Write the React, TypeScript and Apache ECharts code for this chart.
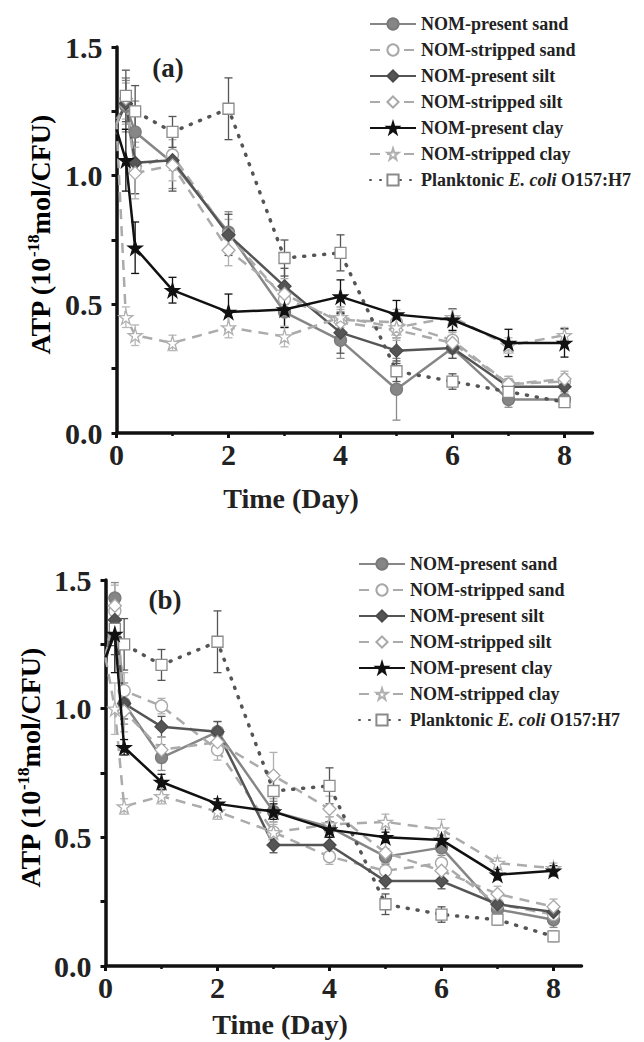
import React, { useEffect, useRef } from "react";
import * as echarts from "echarts";

// ---------- data ----------
const X = [0, 0.167, 0.333, 1, 2, 3, 4, 5, 6, 7, 8];
const XP = [0.167, 0.333, 1, 2, 3, 4, 5, 6, 7, 8];
const xTickLabels = [0, 2, 4, 6, 8];
const xMinorTicks = [1, 3, 5, 7];

const seriesNames = [
  "NOM-present sand",
  "NOM-stripped sand",
  "NOM-present silt",
  "NOM-stripped silt",
  "NOM-present clay",
  "NOM-stripped clay",
  "Planktonic E. coli O157:H7",
];

// Panel (a)
const presentSandA = [1.22, 1.27, 1.17, 1.05, 0.78, 0.47, 0.36, 0.17, 0.33, 0.13, 0.13];
const strippedSandA = [1.2, 1.28, 1.03, 1.08, 0.77, 0.52, 0.44, 0.43, 0.36, 0.19, 0.2];
const presentSiltA = [1.2, 1.28, 1.05, 1.06, 0.77, 0.57, 0.39, 0.32, 0.33, 0.18, 0.18];
const strippedSiltA = [1.2, 1.3, 1.01, 1.04, 0.71, 0.54, 0.43, 0.4, 0.35, 0.19, 0.21];
const presentClayA = [1.18, 1.06, 0.72, 0.555, 0.47, 0.48, 0.53, 0.46, 0.44, 0.35, 0.35];
const strippedClayA = [1.2, 0.45, 0.38, 0.35, 0.41, 0.375, 0.45, 0.41, 0.45, 0.34, 0.38];
const planktonicA = [1.31, 1.25, 1.17, 1.26, 0.68, 0.7, 0.24, 0.2, 0.16, 0.12];

const presentSandErrA = [0, 0.1, 0.12, 0.1, 0.08, 0.06, 0.07, 0.12, 0.04, 0.03, 0.03];
const strippedSandErrA = [0, 0.08, 0.1, 0.06, 0.06, 0.05, 0.05, 0.05, 0.04, 0.03, 0.03];
const presentSiltErrA = [0, 0.1, 0.12, 0.12, 0.08, 0.07, 0.08, 0.05, 0.04, 0.03, 0.03];
const strippedSiltErrA = [0, 0.08, 0.1, 0.06, 0.06, 0.06, 0.05, 0.04, 0.04, 0.03, 0.03];
const presentClayErrA = [0, 0.12, 0.1, 0.05, 0.07, 0.07, 0.065, 0.055, 0.042, 0.053, 0.055];
const strippedClayErrA = [0, 0.04, 0.04, 0.03, 0.04, 0.04, 0.04, 0.04, 0.03, 0.03, 0.03];
const planktonicErrA = [0.1, 0.1, 0.06, 0.12, 0.07, 0.07, 0.04, 0.03, 0.02, 0.02];

// Panel (b)
const presentSandB = [1.18, 1.43, 1.02, 0.81, 0.91, 0.6, 0.54, 0.425, 0.46, 0.22, 0.18];
const strippedSandB = [1.2, 1.38, 1.07, 1.01, 0.84, 0.52, 0.425, 0.37, 0.4, 0.24, 0.2];
const presentSiltB = [1.18, 1.345, 1.02, 0.93, 0.91, 0.47, 0.47, 0.33, 0.33, 0.24, 0.21];
const strippedSiltB = [1.2, 1.4, 0.99, 0.84, 0.87, 0.74, 0.61, 0.44, 0.37, 0.28, 0.23];
const presentClayB = [1.2, 1.29, 0.85, 0.715, 0.63, 0.6, 0.53, 0.5, 0.49, 0.355, 0.37];
const strippedClayB = [1.2, 1.0, 0.62, 0.66, 0.6, 0.52, 0.55, 0.56, 0.53, 0.4, 0.38];
const planktonicB = [1.31, 1.25, 1.17, 1.26, 0.68, 0.7, 0.24, 0.2, 0.18, 0.115];

const presentSandErrB = [0, 0.06, 0.08, 0.05, 0.04, 0.04, 0.04, 0.03, 0.03, 0.03, 0.03];
const strippedSandErrB = [0, 0.06, 0.07, 0.03, 0.04, 0.04, 0.03, 0.03, 0.04, 0.03, 0.03];
const presentSiltErrB = [0, 0.1, 0.06, 0.04, 0.04, 0.03, 0.03, 0.03, 0.03, 0.03, 0.03];
const strippedSiltErrB = [0, 0.08, 0.08, 0.05, 0.04, 0.09, 0.05, 0.04, 0.04, 0.03, 0.03];
const presentClayErrB = [0, 0.15, 0.03, 0.03, 0.02, 0.03, 0.03, 0.02, 0.02, 0.02, 0.02];
const strippedClayErrB = [0, 0.1, 0.03, 0.03, 0.03, 0.03, 0.03, 0.03, 0.04, 0.02, 0.02];
const planktonicErrB = [0.1, 0.1, 0.06, 0.12, 0.07, 0.07, 0.04, 0.03, 0.02, 0.02];

// ---------- styles ----------
const FONT = "'Liberation Serif', 'Times New Roman', serif";
const STAR =
  "path://M50,0 L61,35 L98,35 L68,57 L79,91 L50,70 L21,91 L32,57 L2,35 L39,35 Z";

const styles = [
  { line: "#868686", type: "solid", width: 2.5, symbol: "circle", size: 12, fill: "#868686", border: "#7a7a7a", err: "#8a8a8a" },
  { line: "#ababab", type: [10, 7], width: 2.5, symbol: "circle", size: 12, fill: "#ffffff", border: "#a8a8a8", err: "#b0b0b0" },
  { line: "#555555", type: "solid", width: 2.5, symbol: "diamond", size: 13, fill: "#555555", border: "#4a4a4a", err: "#555555" },
  { line: "#ababab", type: [10, 7], width: 2.5, symbol: "diamond", size: 13, fill: "#ffffff", border: "#a8a8a8", err: "#b0b0b0" },
  { line: "#111111", type: "solid", width: 2.5, symbol: STAR, size: 14, fill: "#111111", border: "#111111", err: "#111111" },
  { line: "#ababab", type: [10, 7], width: 2.5, symbol: STAR, size: 14, fill: "#ffffff", border: "#b0b0b0", err: "#b8b8b8" },
  { line: "#555555", type: [1, 9], width: 3.5, symbol: "rect", size: 11, fill: "#ffffff", border: "#8a8a8a", err: "#555555" },
];

const panelA = [presentSandA, strippedSandA, presentSiltA, strippedSiltA, presentClayA, strippedClayA, planktonicA];
const panelAErr = [presentSandErrA, strippedSandErrA, presentSiltErrA, strippedSiltErrA, presentClayErrA, strippedClayErrA, planktonicErrA];
const panelB = [presentSandB, strippedSandB, presentSiltB, strippedSiltB, presentClayB, strippedClayB, planktonicB];
const panelBErr = [presentSandErrB, strippedSandErrB, presentSiltErrB, strippedSiltErrB, presentClayErrB, strippedClayErrB, planktonicErrB];

function buildSeries(panel: number, vals: number[][], errs: number[][]) {
  const out: any[] = [];
  vals.forEach((ys, i) => {
    const st = styles[i];
    const xs = i === 6 ? XP : X;
    out.push({
      type: "custom",
      name: "err" + panel + "-" + i,
      xAxisIndex: panel * 2,
      yAxisIndex: panel,
      z: 1,
      silent: true,
      data: ys.map((y, k) => [xs[k], y, errs[i][k]]),
      renderItem: (params: any, api: any) => {
        const x = api.value(0);
        const y = api.value(1);
        const e = api.value(2);
        if (!e) return null;
        const top = api.coord([x, y + e]);
        const bot = api.coord([x, y - e]);
        const hw = 4;
        const s = { stroke: st.err, lineWidth: 1.3 };
        return {
          type: "group",
          children: [
            { type: "line", shape: { x1: top[0], y1: top[1], x2: bot[0], y2: bot[1] }, style: s },
            { type: "line", shape: { x1: top[0] - hw, y1: top[1], x2: top[0] + hw, y2: top[1] }, style: s },
            { type: "line", shape: { x1: bot[0] - hw, y1: bot[1], x2: bot[0] + hw, y2: bot[1] }, style: s },
          ],
        };
      },
    });
    out.push({
      type: "line",
      name: seriesNames[i],
      xAxisIndex: panel * 2,
      yAxisIndex: panel,
      z: 2 + (i === 4 ? 3 : 0),
      symbol: st.symbol,
      symbolSize: st.size,
      lineStyle: { color: st.line, width: st.width, type: st.type, cap: i === 6 ? "round" : "butt" },
      itemStyle: { color: st.fill, borderColor: st.border, borderWidth: 1.3 },
      data: ys.map((y, k) =>
        xs[k] === 0 ? { value: [xs[k], y], symbol: "none" } : [xs[k], y]
      ),
    });
  });
  return out;
}

const axisLabelStyle = {
  fontFamily: FONT,
  fontWeight: "bold" as const,
  fontSize: 30,
  color: "#222",
};

function xAxes(grid: number) {
  return [
    {
      type: "value",
      gridIndex: grid,
      min: 0,
      max: 8.5,
      position: "bottom",
      axisLine: { show: true, onZero: false, lineStyle: { color: "#111", width: 3.5 } },
      axisTick: { show: true, customValues: xTickLabels, length: 5, lineStyle: { color: "#111", width: 3 } },
      axisLabel: { ...axisLabelStyle, customValues: xTickLabels, margin: 6 },
      splitLine: { show: false },
    },
    {
      type: "value",
      gridIndex: grid,
      min: 0,
      max: 8.5,
      position: "bottom",
      axisLine: { show: false, onZero: false },
      axisTick: { show: true, customValues: xMinorTicks, length: 3, lineStyle: { color: "#111", width: 2.5 } },
      axisLabel: { show: false },
      splitLine: { show: false },
    },
  ];
}

function yAxis(grid: number) {
  return {
    type: "value",
    gridIndex: grid,
    min: 0,
    max: 1.5,
    interval: 0.5,
    axisLine: { show: true, onZero: false, lineStyle: { color: "#111", width: 3.5 } },
    axisTick: { show: true, length: 5, lineStyle: { color: "#111", width: 3 } },
    minorTick: { show: true, splitNumber: 2, length: 5, lineStyle: { color: "#111", width: 3 } },
    axisLabel: { ...axisLabelStyle, margin: 14, formatter: (v: number) => v.toFixed(1) },
    splitLine: { show: false },
    minorSplitLine: { show: false },
  };
}

function legend(left: number, top: number) {
  return {
    orient: "vertical",
    left,
    top,
    itemWidth: 46,
    itemHeight: 14,
    itemGap: 8,
    data: seriesNames,
    selectedMode: false,
    textStyle: {
      fontFamily: FONT,
      fontWeight: "bold",
      fontSize: 18,
      color: "#222",
      rich: {
        n: { fontFamily: FONT, fontWeight: "bold", fontSize: 18, color: "#222" },
        i: { fontFamily: FONT, fontWeight: "bold", fontStyle: "italic", fontSize: 18, color: "#222" },
      },
    },
    formatter: (name: string) =>
      name.startsWith("Planktonic") ? "{n|Planktonic }{i|E. coli}{n| O157:H7}" : name,
  };
}

function yTitle(x: number, y: number) {
  return {
    type: "text",
    x,
    y,
    rotation: Math.PI / 2,
    style: {
      text: "{n|ATP (10}{s|-18}{n|mol/CFU)}",
      align: "center",
      verticalAlign: "middle",
      rich: {
        n: { fontFamily: FONT, fontWeight: "bold", fontSize: 28, color: "#222", lineHeight: 30 },
        s: { fontFamily: FONT, fontWeight: "bold", fontSize: 17, color: "#222", lineHeight: 16, verticalAlign: "top" },
      },
    },
  };
}

function plainText(text: string, x: number, y: number, size: number) {
  return {
    type: "text",
    x,
    y,
    style: {
      text,
      align: "center",
      verticalAlign: "middle",
      fontFamily: FONT,
      fontWeight: "bold",
      fontSize: size,
      fill: "#222",
    },
  };
}

export default function App() {
  const ref = useRef<HTMLDivElement>(null);
  useEffect(() => {
    document.body.style.margin = "0";
    if (!ref.current) return;
    const chart = echarts.init(ref.current, undefined, { renderer: "svg" });
    chart.setOption({
      animation: false,
      backgroundColor: "#ffffff",
      grid: [
        { left: 116.5, top: 47, width: 476, height: 386 },
        { left: 105.5, top: 580, width: 476, height: 386 },
      ],
      xAxis: [...xAxes(0), ...xAxes(1)],
      yAxis: [yAxis(0), yAxis(1)],
      legend: [legend(364, 10), legend(353, 550)],
      series: [...buildSeries(0, panelA, panelAErr), ...buildSeries(1, panelB, panelBErr)],
      graphic: [
        plainText("(a)", 168, 68, 27),
        plainText("(b)", 165, 600, 27),
        plainText("Time (Day)", 291, 498, 28),
        plainText("Time (Day)", 280, 1024, 28),
        yTitle(40, 235),
        yTitle(30, 768),
      ],
    });
    return () => chart.dispose();
  }, []);
  return <div ref={ref} style={{ width: 644, height: 1042 }} />;
}
